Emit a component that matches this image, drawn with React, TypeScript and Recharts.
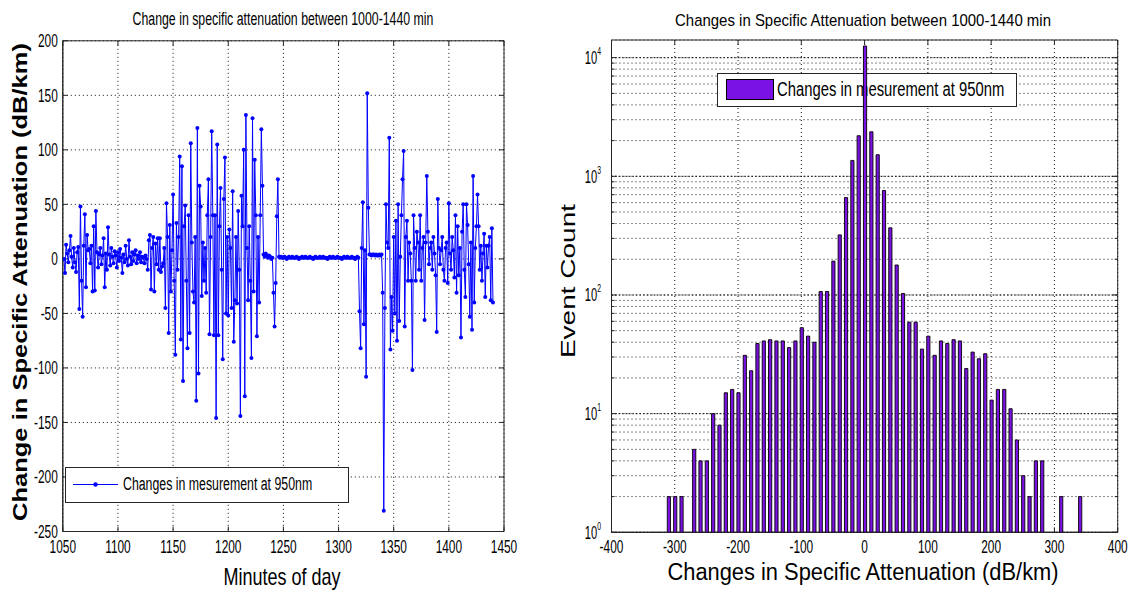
import React from 'react';
import {
  LineChart,
  Line,
  BarChart,
  Bar,
  XAxis,
  YAxis,
  CartesianGrid,
  ReferenceArea,
  ReferenceLine,
} from 'recharts';

// ---------------- DATA ----------------
// Left panel: change in specific attenuation, one sample per minute starting at 1051
const START_MINUTE = 1051;

// 1051 - 1140
const changeSeg1: number[] = [
  0, -13, 13, 5, -3, 8, 21, 2, -8, 10,
  -3, -12, 6, 11, -46, 48, -20, -53, 12, 41,
  -26, 22, 8, 9, -4, 12, -30, 30, -29, 44,
  6, -8, 4, 10, -5, 3, 19, -26, 5, -10,
  29, 4, -6, 10, 2, -4, 7, 3, -8, 6,
  -2, 9, 1, -13, 4, -3, 12, 0, -6, 17,
  2, -5, 6, -2, 4, 8, -4, 3, 0, 6,
  -3, 2, 1, -4, 3, 0, -10, 17, 22, -28,
  10, 20, -30, 14, -5, 19, -10, 19, -12, -7,
];

// 1141 - 1247
const changeSeg2: number[] = [
  -4, 10, -45, 51, 20, -68, 31, -30, 8, 59,
  -20, -88, 33, -10, 20, 94, -74, 85, -112, 30,
  49, -20, -82, 40, -68, 106, 15, -30, -40, 20,
  -130, 120, -105, 67, 48, -34, 15, -20, 10, -31,
  40, 73, -69, 20, 117, 40, -70, 40, -146, 105,
  -70, 30, 65, -10, -92, 55, 93, -50, 20, -52,
  27, 10, -45, 62, -76, -38, 20, -41, 44, -10,
  -144, 58, 30, 100, -126, 132, 10, -38, 30, -20,
  -91, 129, -30, 91, 40, -71, 20, -40, 40, 119,
  67, 4, 2, 5, 3, 1, 3, 2, 0, 1,
  -31, -62, -22, 39, 73, 2, 1,
];

// 1248 - 1318 (quiet period)
const changeSeg3: number[] = [
  2, 1, 1, 2, 1, 0, 1, 2, 1, 1,
  2, 1, 1, 1, 2, 1, 0, 1, 1, 2,
  1, 1, 2, 1, 1, 1, 2, 1, 1, 0,
  1, 2, 1, 1, 1, 2, 1, 1, 2, 1,
  1, 1, 0, 1, 2, 1, 1, 2, 1, 1,
  1, 2, 1, 1, 1, 0, 1, 2, 1, 1,
  2, 1, 1, 1, 2, 1, 1, 0, 1, 2,
  1,
];

// 1319 - 1339
const changeSeg4: number[] = [
  -48, -82, 10, 52, -60, 8, -108, 152, 47, 4,
  4, 3, 4, 4, 3, 4, 3, 3, 4, 3, 4,
];

// 1340 - 1440
const changeSeg5: number[] = [
  -31, -231, -45, 50, 15, 10, 111, -83, -35, -66,
  20, -50, 35, -75, 50, -57, 2, 40, 73, 99,
  -62, 20, 35, -20, 15, 5, -20, -102, 40, 10,
  -20, 25, 15, -10, 40, -20, 10, 20, -56, 15,
  76, 25, -5, 10, 15, -10, 20, 5, -15, -67,
  55, 10, -5, 8, 20, -10, -20, 10, 15, -22,
  51, 5, -10, 20, 8, -17, 40, -31, 30, -15,
  10, -72, 25, 50, -10, -35, 50, 31, -5, -53,
  15, -65, 76, -40, 10, 30, 59, 30, -10, 12,
  -20, 5, 23, -35, 12, -8, 12, 20, -38, 28,
  -40,
];

const changeValues: number[] = [
  ...changeSeg1,
  ...changeSeg2,
  ...changeSeg3,
  ...changeSeg4,
  ...changeSeg5,
];
const lineData = changeValues.map((v, i) => ({ minute: START_MINUTE + i, change: v }));

// Right panel: histogram of changes (bin centre in dB/km, event count)
const histBins: number[] = [
  -310, -300, -290, -270, -260, -250, -240, -230, -220, -210,
  -200, -190, -180, -170, -160, -150, -140, -130, -120, -110,
  -100, -90, -80, -70, -60, -50, -40, -30, -20, -10,
  0, 10, 20, 30, 40, 50, 60, 70, 80, 90,
  100, 110, 120, 130, 140, 150, 160, 170, 180, 190,
  200, 210, 220, 230, 240, 250, 260, 270, 280, 310,
  340,
];
const histCounts: number[] = [
  2, 2, 2, 5, 4, 4, 10, 8, 15, 16,
  15, 31, 23, 39, 41, 42, 41, 41, 36, 41,
  53, 45, 40, 107, 107, 193, 321, 662, 1361, 2198,
  12540, 2372, 1520, 760, 368, 179, 103, 59, 59, 35,
  45, 31, 41, 39, 42, 41, 24, 33, 29, 32,
  13, 16, 16, 11, 6, 3, 2, 4, 4, 2,
  2,
];
const histData = histBins.map((b, i) => ({ bin: b, count: histCounts[i] }));

// Tick values
const leftXTicks = [1050, 1100, 1150, 1200, 1250, 1300, 1350, 1400, 1450];
const leftYTicks = [-250, -200, -150, -100, -50, 0, 50, 100, 150, 200];
const rightXTicks = [-400, -300, -200, -100, 0, 100, 200, 300, 400];
const rightYMajor = [1, 10, 100, 1000, 10000];
const rightYAll = [
  1, 2, 3, 4, 5, 6, 7, 8, 9,
  10, 20, 30, 40, 50, 60, 70, 80, 90,
  100, 200, 300, 400, 500, 600, 700, 800, 900,
  1000, 2000, 3000, 4000, 5000, 6000, 7000, 8000, 9000,
  10000,
];
const RIGHT_Y_TOP = 14090;

// ---------------- STYLE ----------------
const ARIAL = '"Liberation Sans", Arial, Helvetica, sans-serif';
const SQ_TICK = 0.66; // horizontal squeeze imitating the narrow MATLAB font
const AXIS = '#262626';
const GRID = '#111111';
const BLUE = '#0000ff';
const PURPLE = '#7b12e4';
const TICK_FS = 18;

const XTick = (props: any) => {
  const { x, y, payload } = props;
  return (
    <text
      transform={`translate(${x},${y}) scale(${SQ_TICK},1)`}
      x={0}
      y={0}
      dy={12.9}
      textAnchor="middle"
      fontFamily={ARIAL}
      fontSize={TICK_FS}
      fill="#000"
    >
      {payload.value}
    </text>
  );
};

const YTick = (props: any) => {
  const { x, y, payload } = props;
  return (
    <text
      transform={`translate(${x},${y}) scale(${SQ_TICK},1)`}
      x={0}
      y={0}
      dy={6.4}
      textAnchor="end"
      fontFamily={ARIAL}
      fontSize={TICK_FS}
      fill="#000"
    >
      {payload.value}
    </text>
  );
};

const LogTick = (props: any) => {
  const { x, y, payload } = props;
  const v = payload.value;
  if (!rightYMajor.includes(v)) return <g />;
  const exp = Math.round(Math.log10(v));
  return (
    <text
      transform={`translate(${x},${y}) scale(0.62,1)`}
      x={0}
      y={0}
      textAnchor="end"
      fontFamily={ARIAL}
      fontSize={TICK_FS}
      fill="#000"
    >
      <tspan dy={6.4}>10</tspan>
      <tspan dy={-9} fontSize={11}>
        {exp}
      </tspan>
    </text>
  );
};

type TxtProps = {
  x: number;
  y: number;
  size: number;
  weight?: number | string;
  rotate?: boolean;
  squash?: number;
  sx?: number;
  anchor?: 'middle' | 'start';
  children: React.ReactNode;
};
const Txt = ({ x, y, size, weight, rotate, squash, sx, anchor = 'middle', children }: TxtProps) => {
  const t =
    (anchor === 'middle' ? 'translate(-50%,-50%)' : 'translate(0,-50%)') +
    (rotate ? ' rotate(-90deg)' : '') +
    (squash ? ` scaleY(${squash})` : '') +
    (sx ? ` scaleX(${sx})` : '');
  return (
    <div
      style={{
        position: 'absolute',
        left: x,
        top: y,
        transform: t,
        transformOrigin: anchor === 'middle' ? '50% 50%' : '0% 50%',
        fontFamily: ARIAL,
        fontSize: size,
        fontWeight: weight ?? 'normal',
        whiteSpace: 'nowrap',
        lineHeight: 1,
        color: '#000',
      }}
    >
      {children}
    </div>
  );
};

// Left chart geometry
const L_W = 520;
const L_MARGIN = { top: 40.8, right: 16, bottom: 0, left: 0 };
const L_YW = 62.8;
const L_XH = 62.5;

// Right chart geometry
const R_LEFT = 560;
const R_W = 576;
const R_MARGIN = { top: 40, right: 18.3, bottom: 0, left: 0 };
const R_YW = 51.5;
const R_XH = 61.7;

export default function App() {
  return (
    <div
      style={{
        position: 'absolute',
        left: 0,
        top: 0,
        width: 1136,
        height: 594,
        background: '#fff',
        overflow: 'hidden',
      }}
    >
      {/* ---------- LEFT: time series ---------- */}
      <div style={{ position: 'absolute', left: 0, top: 0 }}>
        <LineChart width={L_W} height={594} data={lineData} margin={L_MARGIN}>
          <CartesianGrid stroke={GRID} strokeDasharray="1 3" />
          <XAxis
            dataKey="minute"
            type="number"
            domain={[1050, 1450]}
            ticks={leftXTicks}
            interval={0}
            allowDataOverflow
            height={L_XH}
            tick={<XTick />}
            tickLine={false}
            tickSize={0}
            tickMargin={9}
            axisLine={{ stroke: AXIS }}
          />
          <YAxis
            type="number"
            domain={[-250, 200]}
            ticks={leftYTicks}
            interval={0}
            allowDataOverflow
            width={L_YW}
            tick={<YTick />}
            tickLine={false}
            tickSize={0}
            tickMargin={5}
            axisLine={{ stroke: AXIS }}
          />
          {leftXTicks.map((t) => (
            <ReferenceLine
              key={'lxb' + t}
              segment={[{ x: t, y: -250 }, { x: t, y: -245.4 }]}
              stroke={AXIS}
              ifOverflow="visible"
            />
          ))}
          {leftXTicks.map((t) => (
            <ReferenceLine
              key={'lxt' + t}
              segment={[{ x: t, y: 200 }, { x: t, y: 195.4 }]}
              stroke={AXIS}
              ifOverflow="visible"
            />
          ))}
          {leftYTicks.map((t) => (
            <ReferenceLine
              key={'lyl' + t}
              segment={[{ x: 1050, y: t }, { x: 1054.5, y: t }]}
              stroke={AXIS}
              ifOverflow="visible"
            />
          ))}
          {leftYTicks.map((t) => (
            <ReferenceLine
              key={'lyr' + t}
              segment={[{ x: 1445.5, y: t }, { x: 1450, y: t }]}
              stroke={AXIS}
              ifOverflow="visible"
            />
          ))}
          <ReferenceArea
            x1={1050}
            x2={1450}
            y1={-250}
            y2={200}
            fill="none"
            stroke={AXIS}
            strokeWidth={1}
            ifOverflow="visible"
          />
          <Line
            dataKey="change"
            type="linear"
            stroke={BLUE}
            strokeWidth={1}
            dot={{ r: 2, fill: BLUE, stroke: BLUE, strokeWidth: 0 }}
            isAnimationActive={false}
          />
        </LineChart>
      </div>

      {/* left legend */}
      <div
        style={{
          position: 'absolute',
          left: 65.4,
          top: 466.7,
          width: 283.6,
          height: 36,
          border: `1px solid ${AXIS}`,
          boxSizing: 'border-box',
          background: '#fff',
        }}
      >
        <svg width={60} height={34} style={{ position: 'absolute', left: 0, top: 0 }}>
          <line x1={7} y1={16.5} x2={52} y2={16.5} stroke={BLUE} strokeWidth={1} />
          <circle cx={29.5} cy={16.5} r={2.2} fill={BLUE} />
        </svg>
      </div>
      <Txt x={122.5} y={484} size={18} sx={0.685} anchor="start">
        Changes in mesurement at 950nm
      </Txt>

      {/* left texts */}
      <Txt x={282.5} y={19} size={18} sx={0.685}>
        Change in specific attenuation between 1000-1440 min
      </Txt>
      <Txt x={282} y={577} size={24} sx={0.75}>
        Minutes of day
      </Txt>
      <Txt x={20} y={282} size={25.5} weight="bold" rotate squash={0.8}>
        Change in Specific Attenuation (dB/km)
      </Txt>

      {/* ---------- RIGHT: histogram (grid layer) ---------- */}
      <div style={{ position: 'absolute', left: R_LEFT, top: 0 }}>
        <BarChart width={R_W} height={594} data={histData} margin={R_MARGIN}>
          <CartesianGrid stroke={GRID} strokeDasharray="1 3" />
          <XAxis
            dataKey="bin"
            type="number"
            domain={[-400, 400]}
            ticks={rightXTicks}
            interval={0}
            allowDataOverflow
            height={R_XH}
            tick={<XTick />}
            tickLine={false}
            tickSize={0}
            tickMargin={8}
            axisLine={{ stroke: AXIS }}
          />
          <YAxis
            type="number"
            scale="log"
            domain={[1, RIGHT_Y_TOP]}
            ticks={rightYAll}
            interval={0}
            allowDataOverflow
            width={R_YW}
            tick={<LogTick />}
            tickLine={false}
            tickSize={0}
            tickMargin={10.5}
            axisLine={{ stroke: AXIS }}
          />
          {rightYMajor.map((t) => (
            <ReferenceLine key={'maj' + t} y={t} stroke={GRID} strokeDasharray="1.5 2" ifOverflow="visible" />
          ))}
          {rightXTicks.map((t) => (
            <ReferenceLine
              key={'rxb' + t}
              segment={[{ x: t, y: 1 }, { x: t, y: 1.1 }]}
              stroke={AXIS}
              ifOverflow="visible"
            />
          ))}
          {rightXTicks.map((t) => (
            <ReferenceLine
              key={'rxt' + t}
              segment={[{ x: t, y: RIGHT_Y_TOP }, { x: t, y: RIGHT_Y_TOP / 1.1 }]}
              stroke={AXIS}
              ifOverflow="visible"
            />
          ))}
          {rightYAll.map((t) => (
            <ReferenceLine
              key={'ryl' + t}
              segment={[{ x: -400, y: t }, { x: rightYMajor.includes(t) ? -392 : -395.3, y: t }]}
              stroke={AXIS}
              ifOverflow="visible"
            />
          ))}
          {rightYAll.map((t) => (
            <ReferenceLine
              key={'ryr' + t}
              segment={[{ x: rightYMajor.includes(t) ? 392 : 395.3, y: t }, { x: 400, y: t }]}
              stroke={AXIS}
              ifOverflow="visible"
            />
          ))}
          <ReferenceArea
            x1={-400}
            x2={400}
            y1={1}
            y2={RIGHT_Y_TOP}
            fill="none"
            stroke={AXIS}
            strokeWidth={1}
            ifOverflow="visible"
          />
        </BarChart>
      </div>

      {/* right legend (drawn under the bars) */}
      <div
        style={{
          position: 'absolute',
          left: 717,
          top: 73.3,
          width: 300,
          height: 33.4,
          border: `1px solid ${AXIS}`,
          boxSizing: 'border-box',
          background: '#fff',
        }}
      >
        <div
          style={{
            position: 'absolute',
            left: 8,
            top: 5,
            width: 47.6,
            height: 20.7,
            background: PURPLE,
            border: '1px solid #000',
            boxSizing: 'border-box',
          }}
        />
      </div>
      <Txt x={776.7} y={90} size={19.5} sx={0.76} anchor="start">
        Changes in mesurement at 950nm
      </Txt>

      {/* right bars layer */}
      <div style={{ position: 'absolute', left: R_LEFT, top: 0 }}>
        <BarChart width={R_W} height={594} data={histData} margin={R_MARGIN}>
          <XAxis
            dataKey="bin"
            type="number"
            domain={[-400, 400]}
            ticks={rightXTicks}
            allowDataOverflow
            height={R_XH}
            tick={false}
            tickLine={false}
            axisLine={false}
          />
          <YAxis
            type="number"
            scale="log"
            domain={[1, RIGHT_Y_TOP]}
            ticks={rightYMajor}
            allowDataOverflow
            width={R_YW}
            tick={false}
            tickLine={false}
            axisLine={false}
          />
          <Bar
            dataKey="count"
            fill={PURPLE}
            stroke="#000"
            strokeWidth={0.9}
            barSize={3.2}
            isAnimationActive={false}
          />
        </BarChart>
      </div>

      {/* right texts */}
      <Txt x={863} y={20} size={17} sx={0.88}>
        Changes in Specific Attenuation between 1000-1440 min
      </Txt>
      <Txt x={863} y={572} size={23} sx={0.95}>
        Changes in Specific Attenuation (dB/km)
      </Txt>
      <Txt x={567.5} y={281} size={28} rotate squash={0.75}>
        Event Count
      </Txt>
    </div>
  );
}
